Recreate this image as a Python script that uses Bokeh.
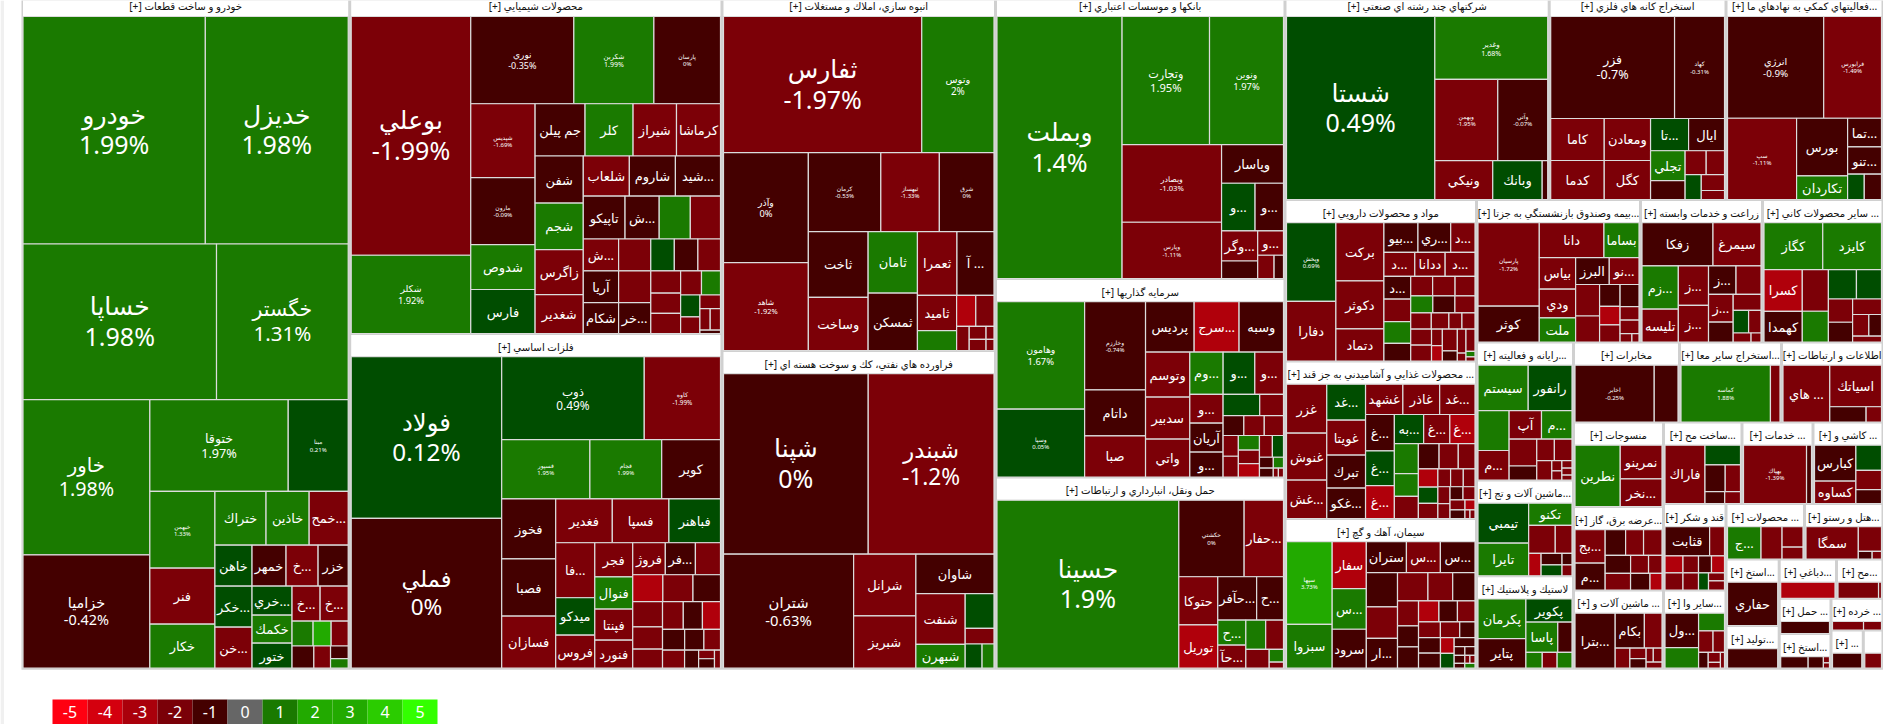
from bokeh.plotting import figure
from bokeh.models import ColumnDataSource, Range1d
from bokeh.core.properties import value
from bokeh.embed import file_html
from bokeh.resources import INLINE

def H(*c): return ("H", c)
def V(*c): return ("V", c)
def T(s):
    s = s.rstrip(")")
    return eval(s + ")" * (s.count("(") - s.count(")")))

# ---------- data: one block per sector: names, % change, traded value, nesting ----------
S01_HEAD = "خودرو و ساخت قطعات"
S01_NAMES = ["خودرو","خديزل","خساپا","خگستر","خاور","خزاميا","ختوقا","مبنا","خبهمن","فنر","خكار","ختراك","خاذين","خمح...","خاهن","خكر...","خن...","خمهر","خ...","خزر","خري...","خكمك","ختور","خ...","خ...","","","","","","",""]
S01_PCT = [1.99,1.98,1.98,1.31,1.98,-0.42,1.97,0.21,1.33,-1.5,1.5,1.5,1.5,-1.5,0.5,0.5,-1.5,-0.5,-1.5,-0.5,0.5,1.5,0.5,-1.5,-1.5,1.5,2.5,-1.5,-0.5,-1.5,-0.5,1.5]
S01_SIZE = [41430,32460,30070,20460,19660,14360,12670,5490,5000,3640,2860,2750,2320,2100,1520,1520,1520,1390,1310,1230,1160,1120,1000,980,980,525,450,425,483,370,221,170]
S01_TREE = T("V(H(2),H(2),H(V(2),V(H(2),H(V(3),V(H(3),H(V(3),V(H(3),H(V(3),V(H(2),H(3),H(2,V(2)")

S02_HEAD = "محصولات شيميايي"
S02_NAMES = ["بوعلي","شكلر","نوري","شكربن","پارسان","شپديس","مارون","شدوص","فارس","جم پيلن","كلر","شيراز","كرماشا","شفن","شجم","زاگرس","شغدير","شلعاب","شاروم","شيد...","تاپيكو","ش...","","","ش...","آريا","شكام","","","خر..."] + [""]*14
S02_PCT = [-1.99,1.92,-0.35,1.99,0,-1.69,-0.09,1.5,0.5,-0.5,1.5,-1.5,-1.5,-0.5,1.5,-1.5,-1.5,-1.5,-0.5,-0.5,-0.5,-0.5,1.5,-1.5,-1.5,-0.5,-0.5,-1.5,-1.5,-0.5,0.5,-0.5,-1.5,-1.5,-1.5,-1.5,-1.5,1.5,0.5,-1.5,-1.5,-1.5,-1.5,-0.5]
S02_SIZE = [28440,9320,8960,6960,5790,4740,4290,2880,2820,2600,2500,2260,2290,2260,2230,2160,1870,1840,1840,1800,1785,1460,1330,1290,1120,1120,1085,1020,1020,990,750,750,720,660,600,600,500,455,420,320,280,220,220,70]
S02_TREE = T("H(V(2),V(H(3),H(V(4),V(H(4),H(V(4),V(H(3),H(4),H(V(3),V(3),V(H(3),H(V(3),V(H(2),H(V(2),V(1,H(2),1")

S03_HEAD = "فلزات اساسي"
S03_NAMES = ["فولاد","فملي","ذوب","كاوه","فسپور","فجام","كوير","فخوز","فصبا","فسازان","فغدير","فسپا","فباهنر","فا...","ميدكو","فروس","فجر","فنوال","فپنتا","فنورد","فروژ","فر..."] + [""]*18
S03_PCT = [0.12,0,0.49,-1.99,1.95,1.99,-0.5,-0.5,-0.5,-1.5,-1.5,-1.5,0.5,-1.5,0.5,-1.5,-1.5,1.5,-1.5,-1.5,-1.5,-0.5,-1.5,-2.5,-1.5,-0.5,-1.5,-1.5,-1.5,-1.5,-0.5,-2.5,-0.5,-0.5,-1.5,-1.5,-0.5,-1.5,-0.5,-1.5]
S03_SIZE = [24300,22500,11800,6310,5220,4250,3480,3240,3080,2810,2480,2480,2260,2145,1460,1290,1290,1220,1180,1060,1040,960,800,810,810,740,750,660,570,575,530,500,460,400,345,396,252,135,150,108]
S03_TREE = T("H(V(2),V(H(2),H(3),H(V(3),V(H(3),H(V(3),V(4),V(H(3),H(3),H(V(3),V(H(3),H(3),H(1,1,V(2),1")

S04_HEAD = "انبوه سازي، املاك و مستغلات"
S04_NAMES = ["ثفارس","وتوس","وآذر","شاهد","كرمان","ثبهساز","شرق","ثاخت","وساخت","ثامان","ثمسكن","ثعمرا","آ ...","ثاميد","","","","","","","",""]
S04_PCT = [-1.97,2,0,-1.92,-0.53,-1.33,0,-0.5,-1.5,1.5,-0.5,-1.5,-0.5,-1.5,1.5,-2.5,-1.5,-1.5,-1.5,-1.5,-1.5,-1.5]
S04_SIZE = [27060,9860,9350,7480,5730,4630,4320,3950,3180,3040,2840,2530,2370,1385,780,595,565,305,221,187,104,88]
S04_TREE = T("V(H(2),H(V(2),V(H(3),H(V(2),V(2),V(H(2),H(V(2),V(H(2),H(1,V(2),V(2)")

S05_HEAD = "فراورده هاي نفتي، كك و سوخت هسته اي"
S05_NAMES = ["شپنا","شبندر","شتران","شرانل","شبريز","شاوان","شنفت","شبهرن","","","",""]
S05_PCT = [0,-1.2,-0.63,-1.5,-1.5,-0.5,-1.5,1.5,0.5,-1.5,0.5,1.5]
S05_SIZE = [26100,22680,14830,3840,3255,3080,2500,1176,1000,450,408,288]
S05_TREE = T("V(H(2),H(1,V(2),V(1,H(V(2),V(1,1,H(2)")

S06_HEAD = "بانكها و موسسات اعتباري"
S06_NAMES = ["وبملت","وتجارت","ونوين","وبصادر","وپارس","وپاسار","و...","و...","وگر...","","و...","",""]
S06_PCT = [1.4,1.95,1.97,-1.03,-1.11,-0.5,0.5,-0.5,-1.5,-0.5,-1.5,-1.5,-0.5]
S06_SIZE = [32620,11160,9440,7680,5570,2375,1590,1350,1080,630,624,380,218]
S06_TREE = T("H(1,V(H(2),H(V(2),V(1,H(2),H(V(2),V(1,H(2)")

S07_HEAD = "سرمايه گذاريها"
S07_NAMES = ["وهامون","وسپا","وخارزم","داتام","صبا","پرديس","سرج...","وسبه","وتوسم","سدبير","واتي","وم...","و...","و...","و...","آريان","و..."] + [""]*17
S07_PCT = [1.67,0.05,-0.74,-0.5,-1.5,-0.5,-2.5,-0.5,-1.5,-1.5,-1.5,1.5,0.5,-1.5,-1.5,-0.5,-0.5,0.5,-1.5,-0.5,-1.5,-1.5,-1.5,-1.5,1.5,-1.5,-2.5,-1.5,0.5,-0.5,1.5,-0.5,-1.5,-1.5]
S07_SIZE = [9370,5910,5340,2790,2490,2435,2250,2225,1980,1850,1670,1400,1330,1205,957,957,825,777,504,410,404,380,315,315,305,283,283,280,240,150,110,122,45,45]
S07_TREE = T("H(V(2),V(3),V(H(3),H(V(3),V(H(3),H(V(3),V(H(2),H(3),H(V(2),V(3),V(H(2),H(2),H(3)")

S08_HEAD = "حمل ونقل، انبارداري و ارتباطات"
S08_NAMES = ["حسينا","حكشتي","حفار...","حتوكا","توريل","حآفر...","ح...","ح...","حآ...","","","","",""]
S08_PCT = [1.9,0,-1.5,-1.5,-2.5,-0.5,-0.5,1.5,-1.5,1.5,-1.5,-1.5,1.5,-1.5]
S08_SIZE = [30420,4980,3000,1870,1680,1680,1160,700,645,580,520,437,180,87]
S08_TREE = T("H(1,V(H(2),H(V(2),V(H(2),H(V(2),V(H(2),H(1,V(2)")

S09_HEAD = "شركتهاي چند رشته اي صنعتي"
S09_NAMES = ["شستا","وغدير","وبهمن","وآتي","ونيكي","وبانك",""]
S09_PCT = [0.49,1.68,-1.95,-0.07,-1.5,0.5,-0.5]
S09_SIZE = [27240,7120,5130,4070,2260,1930,215]
S09_TREE = T("H(1,V(1,H(2),H(3)")

S10_HEAD = "استخراج كانه هاي فلزي"
S10_NAMES = ["فزر","كهاد","كاما","كدما","ومعادن","كگل","تا...","ايال","تجلي","","","","","",""]
S10_PCT = [-0.7,-0.31,-1.5,-1.5,-1.5,-1.5,0.5,-0.5,1.5,-0.5,-1.5,-1.5,0.5,-1.5,-1.5]
S10_SIZE = [12520,5050,2230,2070,1930,1790,1216,1150,1020,650,497,432,400,368,207]
S10_TREE = T("V(H(2),H(V(2),V(2),V(H(2),H(V(2),V(H(2),H(1,V(2)")

S11_HEAD = "فعاليتهاي كمكي به نهادهاي ما..."
S11_NAMES = ["انرژي","فرابورس","سپ","بورس","تكاردان","تما...","تنو...","",""]
S11_PCT = [-0.9,-1.49,-1.11,-0.5,1.5,-0.5,-0.5,0.5,-0.5]
S11_SIZE = [9750,5860,5590,2930,1200,970,920,420,434]
S11_TREE = T("V(H(2),H(1,V(2),V(1,1,H(2)")

S12_HEAD = "مواد و محصولات دارويي"
S12_NAMES = ["وپخش","دفارا","بركت","دكوثر","دتماد","بيو...","ري...","د...","د...","ددانا","د...","د..."] + [""]*24
S12_PCT = [0.69,-1.5,-1.5,-1.5,-1.5,-0.5,-0.5,-1.5,-1.5,-1.5,-1.5,-0.5,-1.5,1.5,-0.5,-1.5,-1.5,-1.5,1.5,-0.5,-1.5,-1.5,-1.5,-1.5,-1.5,-1.5,-1.5,-1.5,-2.5,-1.5,-0.5,-1.5,-1.5,-1.5,1.5,-1.5]
S12_SIZE = [3830,2910,2755,2280,1520,995,957,710,735,723,711,598,598,572,468,418,428,380,374,374,340,328,280,208,208,328,328,176,165,322,150,204,68,198,50,36]
S12_TREE = T("H(V(2),V(3),V(H(3),H(3),H(V(4),V(H(3),H(3),H(4),H(V(2),V(2),V(2),V(2),V(3)")

S13_HEAD = "محصولات غذايي و آشاميدني به جز قند ..."
S13_NAMES = ["غزر","غنوش","غش...","غد...","غويتا","تبرك","غكو...","غشهد","غاذر","غد...","غ...","غ...","غ...","به...","غ...","غ..."] + [""]*21
S13_PCT = [-1.5,-1.5,-1.5,0.5,-1.5,-0.5,-0.5,-1.5,-1.5,-1.5,-0.5,0.5,-2.5,0.5,-1.5,-2.5,1.5,1.5,-1.5,-0.5,-1.5,-1.5,-2.5,0.5,-1.5,-1.5,-1.5,-1.5,-1.5,-1.5,-0.5,-1.5,-1.5,-2.5,-0.5,-1.5,-1.5]
S13_SIZE = [1960,1880,1540,1386,1350,1270,1175,1125,1110,1065,1040,1000,940,850,760,730,717,540,530,520,482,420,352,314,295,225,225,207,204,180,169,156,150,100,128,43,43]
S13_TREE = T("H(V(3),V(4),V(H(3),H(V(3),V(H(3),H(V(3),V(H(3),H(V(3),V(H(3),H(V(2),V(H(2),H(2),H(3)")

S14_HEAD = "سيمان، آهك و گچ"
S14_NAMES = ["سپها","سبزوا","سفار","س...","سرود","ستران","س...","س...","","","ار..."] + [""]*24
S14_PCT = [3.73,1.5,-2.5,1.5,-0.5,-0.5,-1.5,-0.5,-0.5,-1.5,-0.5,-1.5,-1.5,-0.5,-1.5,-0.5,-0.5,-2.5,-0.5,-1.5,-1.5,-1.5,-0.5,-0.5,-0.5,-2.5,0.5,-0.5,-0.5,-0.5,-0.5,-1.5,-1.5,-0.5,1.5]
S14_SIZE = [3780,2000,1600,1390,1330,1240,1050,1070,1070,980,930,860,700,630,525,440,450,430,390,370,344,304,240,340,330,216,202,185,95,90,84,40,40,52,50]
S14_TREE = T("H(V(2),V(3),V(H(3),H(V(3),V(H(3),H(V(3),V(H(3),H(3),H(V(2),V(2),V(1,H(2),H(3),H(2)")

S15_HEAD = "بيمه وصندوق بازنشستگي به جزتا..."
S15_NAMES = ["پارسيان","كوثر","دانا","بساما","بياس","ودي","ملت","البرز","نو..."] + [""]*10
S15_PCT = [-1.72,-0.5,-1.5,1.5,-1.5,-1.5,1.5,-0.5,-1.5,-1.5,-1.5,-0.5,-2.5,-1.5,-0.5,-1.5,-1.5,-1.5,-1.5]
S15_SIZE = [5120,2200,2260,1225,1150,1040,880,905,800,756,624,450,380,350,418,256,256,100,60]
S15_TREE = T("H(V(2),V(H(2),H(V(3),V(H(2),H(V(2),V(3),V(1,1,1,H(2)")

S16_HEAD = "زراعت و خدمات وابسته"
S16_NAMES = ["زفكا","سيمرغ","زم...","تليسه","ز...","ز...","ز...","","ز...","","","","","",""]
S16_PCT = [-0.5,-1.5,1.5,-1.5,-1.5,-1.5,-0.5,-1.5,-1.5,-0.5,-1.5,0.5,-1.5,-1.5,-1.5]
S16_SIZE = [3090,2090,1580,1200,1200,1110,784,712,690,494,448,352,284,162,90]
S16_TREE = T("V(H(2),H(V(2),V(2),V(H(2),H(V(2),V(1,H(2),H(2)")

S17_HEAD = "ساير محصولات كاني ..."
S17_NAMES = ["كگاز","كايزد","كسرا","كهمدا","","","","","","","","","",""]
S17_PCT = [1.5,1.5,-2.5,-0.5,-1.5,1.5,0.5,0.5,-1.5,-0.5,-1.5,-1.5,-0.5,-1.5]
S17_SIZE = [2770,2770,1600,1180,1090,806,826,738,564,480,450,352,275,170]
S17_TREE = T("V(H(2),H(V(2),V(2),V(H(2),H(V(2),V(1,H(2),1")

S18_HEAD = "رايانه و فعاليته..."
S18_NAMES = ["سيستم","رانفور","","م...","آپ","م...","","","","","","","","","",""]
S18_PCT = [1.5,0.5,1.5,-1.5,-1.5,1.5,-1.5,-0.5,-1.5,-1.5,-1.5,-1.5,-1.5,-1.5,-1.5,-1.5]
S18_SIZE = [2270,1980,1240,915,924,870,740,385,378,378,290,102,92,75,70,50]
S18_TREE = T("V(H(2),H(V(2),V(H(2),H(V(2),V(H(2),H(1,V(2),V(3)")

S19_HEAD = "ماشين آلات و تج..."
S19_NAMES = ["تيمبي","تايرا","تكنو","","","","","","",""]
S19_PCT = [0.5,1.5,1.5,-1.5,-1.5,-2.5,-0.5,0.5,-0.5,-1.5]
S19_SIZE = [2045,1670,968,756,476,281,242,231,115,110]
S19_TREE = T("H(V(2),V(1,H(2),H(1,V(2),V(2)")

S20_HEAD = "لاستيك و پلاستيك"
S20_NAMES = ["پكرمان","پتاير","پكوير","پاسا","","","",""]
S20_PCT = [1.5,-0.5,0.5,1.5,-0.5,1.5,-1.5,1.5]
S20_SIZE = [1920,1440,1080,975,435,264,240,240]
S20_TREE = T("H(V(2),V(1,H(2),H(3)")

S21_HEAD = "مخابرات"
S21_NAMES = ["اخابر",""]
S21_PCT = [-0.25,-0.5]
S21_SIZE = [4520,1356]
S21_TREE = H(2)

S22_HEAD = "استخراج ساير معا..."
S22_NAMES = ["كماسه",""]
S22_PCT = [1.88,-1.5]
S22_SIZE = [5030,537]
S22_TREE = H(2)

S23_HEAD = "اطلاعات و ارتباطات"
S23_NAMES = ["هاي ...","اسياتك","",""]
S23_PCT = [-1.5,-1.5,-0.5,-1.5]
S23_SIZE = [2630,2130,548,232]
S23_TREE = T("H(1,V(1,H(2)")

S24_HEAD = "منسوجات"
S24_NAMES = ["نطرين","نمرينو","نخر..."]
S24_PCT = [1.5,-1.5,-1.5]
S24_SIZE = [2820,1428,1176]
S24_TREE = T("H(1,V(2)")

S25_HEAD = "ساخت مح..."
S25_NAMES = ["فاراك","","","","",""]
S25_PCT = [-1.5,0.5,-0.5,-1.5,-0.5,-1.5]
S25_SIZE = [2390,720,553,418,240,192]
S25_TREE = T("H(1,V(1,H(2),H(2)")

S26_HEAD = "خدمات ..."
S26_NAMES = ["بهپاك",""]
S26_PCT = [-1.39,-0.5]
S26_SIZE = [3750,295]
S26_TREE = H(2)

S27_HEAD = "كاشي و ..."
S27_NAMES = ["كبارس","كساوه","","",""]
S27_PCT = [-0.5,-1.5,0.5,-1.5,-0.5]
S27_SIZE = [1523,955,663,507,364]
S27_TREE = T("H(V(2),V(3)")

S28_HEAD = "عرضه برق، گاز..."
S28_NAMES = ["بج...","م...","","","","","","","","",""]
S28_PCT = [-1.5,-0.5,-0.5,-1.5,-1.5,-0.5,-1.5,-1.5,-1.5,-0.5,-2.5]
S28_SIZE = [1005,810,523,459,472,459,324,243,420,322,198]
S28_TREE = T("H(V(2),V(H(3),H(3),H(3)")

S29_HEAD = "قند و شكر"
S29_NAMES = ["قثابت","","","","","","","","","",""]
S29_PCT = [-0.5,-1.5,-2.5,-1.5,-0.5,-2.5,-1.5,-1.5,0.5,-1.5,-1.5]
S29_SIZE = [1290,430,306,264,221,221,306,264,170,128,144]
S29_TREE = T("V(H(2),H(4),H(1,1,1,V(2)")

S30_HEAD = "محصولات ..."
S30_NAMES = ["ج...","","",""]
S30_PCT = [1.5,-1.5,-1.5,-1.5]
S30_SIZE = [1092,685,430,252]
S30_TREE = T("H(2,V(2)")

S31_HEAD = "هتل و رستو..."
S31_NAMES = ["سمگا","","",""]
S31_PCT = [-1.5,-1.5,-0.5,-1.5]
S31_SIZE = [1695,575,105,71]
S31_TREE = T("H(1,V(1,H(2)")

S32_HEAD = "استخ..."
S32_NAMES = ["حفاري"]
S32_PCT = [-0.5]
S32_SIZE = [2150]
S32_TREE = H(1)

S33_HEAD = "توليد..."
S33_NAMES = [""]
S33_PCT = [-0.5]
S33_SIZE = [1000]
S33_TREE = H(1)

S34_HEAD = "دباغي..."
S34_NAMES = [""]
S34_PCT = [-2.5]
S34_SIZE = [870]
S34_TREE = H(1)

S35_HEAD = "مح..."
S35_NAMES = ["",""]
S35_PCT = [-1.5,-1.5]
S35_SIZE = [660,48]
S35_TREE = H(2)

S36_HEAD = "حمل ..."
S36_NAMES = [""]
S36_PCT = [-0.5]
S36_SIZE = [590]
S36_TREE = H(1)

S37_HEAD = "خرده ..."
S37_NAMES = ["",""]
S37_PCT = [-1.5,-1.5]
S37_SIZE = [280,162]
S37_TREE = H(2)

S38_HEAD = "استخ..."
S38_NAMES = ["","","",""]
S38_PCT = [-0.5,-0.5,-1.5,-1.5]
S38_SIZE = [297,165,36,30]
S38_TREE = T("H(2,V(2)")

S39_HEAD = "..."
S39_NAMES = [""]
S39_PCT = [-0.5]
S39_SIZE = [450]
S39_TREE = H(1)

S40_HEAD = ""
S40_NAMES = [""]
S40_PCT = [-1.5]
S40_SIZE = [250]
S40_TREE = H(1)

S41_HEAD = "ماشين آلات و ..."
S41_NAMES = ["بترا...","بكام","","","","","","",""]
S41_PCT = [-0.5,-0.5,-1.5,-1.5,-1.5,-0.5,-1.5,-1.5,-1.5]
S41_SIZE = [2170,1000,604,290,168,152,98,119,96]
S41_TREE = T("H(1,V(H(2),H(1,V(2),V(H(2),1")

S42_HEAD = "ساير وا..."
S42_NAMES = ["ول...","","","","","","","",""]
S42_PCT = [-0.5,1.5,1.5,-1.5,-1.5,-0.5,-1.5,-1.5,-1.5]
S42_SIZE = [1155,687,455,312,247,152,120,72,64]
S42_TREE = T("H(V(2),V(1,H(2),H(1,V(2),1")

# sector order follows the leaves of SECTOR_TREE
SECTOR_IDS = [1,2,3,4,5,6,7,8,9,10,11,12,13,14,15,16,17,18,19,20,21,22,23,24,28,41,25,26,27,29,42,30,31,32,33,34,35,36,38,37,39,40]
SECTOR_VALUE = [221500,126660,124610,97690,86890,82570,57470,55350,54480,36460,32370,30930,30160,28670,23370,17385,17170,13386,9293,8963,8480,8160,8120,7605,7515,7038,6398,5787,5705,5406,4888,4357,4357,3538,2272,2252,1827,1823,1797,1648,1234,753]
SECTOR_TREE = T("H(1,V(2),V(2),V(3),V(H(3),H(V(3),V(H(3),H(V(3),V(H(3),H(V(3),V(H(3),H(V(2),V(H(2),H(V(2),V(H(2),H(V(2),V(1,H(2)")

LEGEND_VALUES = [-5,-4,-3,-2,-1,0,1,2,3,4,5]
LEGEND_COLORS = ["#ff0011","#d4000e","#aa000b","#7a0008","#440000","#666666","#1a7a00","#22aa00","#22aa00","#2bcc00","#33ff00"]

# ---------- style ----------
FAMILY = value("Noto Sans, DejaVu Sans")
C_RR, C_R, C_D, C_DG, C_G, C_B = "#b0000b", "#7c0007", "#440000", "#004d00", "#1a7a00", "#22aa00"
def colour(p):
    if p <= -2: return C_RR
    if p < -1: return C_R
    if p <= 0: return C_D
    if p < 1: return C_DG
    if p <= 2: return C_G
    return C_B
def fmt(p):
    return ("%.2f" % p).rstrip("0").rstrip(".") + "%"
ALWAYS_PCT = {"سپها","وپخش","بهپاك"}

# ---------- treemap layout ----------
def walk(node, w, ctr):
    if isinstance(node, int):
        i = ctr[0]; ctr[0] += 1
        return (w[i], ("L", i))
    d, ch = node
    out = []
    for c in ch:
        if isinstance(c, int):
            for _ in range(c):
                out.append(walk(1, w, ctr))
        else:
            out.append(walk(c, w, ctr))
    return (sum(o[0] for o in out), (d, out))

def place(n, box, res):
    total, nd = n
    if nd[0] == "L":
        res[nd[1]] = box; return
    x0, y0, x1, y1 = box
    pos = x0 if nd[0] == "H" else y0
    span = (x1 - x0) if nd[0] == "H" else (y1 - y0)
    for c in nd[1]:
        step = span * c[0] / total
        if nd[0] == "H":
            place(c, (pos, y0, pos + step, y1), res)
        else:
            place(c, (x0, pos, x1, pos + step), res)
        pos += step

def layout(tree, w, box):
    res = {}
    ctr = [0]
    place(walk(tree, w, ctr), box, res)
    assert ctr[0] == len(w), (ctr[0], len(w))
    return [res[i] for i in range(len(w))]

ROOT = (21.0, -5.7, 1882.5, 669.2)
sbox = layout(SECTOR_TREE, SECTOR_VALUE, ROOT)
G = globals()
hx, hy, ht = [], [], []
hd = dict(l=[], r=[], t=[], b=[])
td = dict(l=[], r=[], t=[], b=[], c=[])
l1 = dict(x=[], y=[], s=[], f=[])
for sid, b in zip(SECTOR_IDS, sbox):
    k = "S%02d_" % sid
    names, pct, size, tree = G[k+"NAMES"], G[k+"PCT"], G[k+"SIZE"], G[k+"TREE"]
    assert len(names) == len(pct) == len(size), (sid, len(names), len(pct), len(size))
    x0, y0, x1, y1 = b
    hd["l"].append(x0+1.5); hd["r"].append(x1-1.5); hd["t"].append(y0); hd["b"].append(y1-1.5)
    head = G[k+"HEAD"]
    if head:
        hx.append((x0+x1)/2); hy.append(y0+11.6); ht.append("[+] " + head)
    cells = layout(tree, size, (x0+1.5, y0+21.7, x1-1.5, y1-1.5))
    for (a, bb, c, d), n, p, s in zip(cells, names, pct, size):
        td["l"].append(a); td["r"].append(c); td["t"].append(bb); td["b"].append(d); td["c"].append(colour(p))
        if not n: continue
        cx, cy = (a+c)/2, (bb+d)/2
        if s >= 4000 or n in ALWAYS_PCT:
            f = min(25.0, max(6.0, s/1000.0))
            l1["x"] += [cx, cx]; l1["y"] += [cy-0.70*f+1, cy+0.52*f+1]
            l1["s"] += [n, fmt(p)]; l1["f"] += ["%.1fpx" % f]*2
        else:
            l1["x"].append(cx); l1["y"].append(cy); l1["s"].append(n); l1["f"].append("13px")

# ---------- drawing ----------
p = figure(width=1896, height=724, x_range=Range1d(0, 1896), y_range=Range1d(724, 0),
           x_axis_type=None, y_axis_type=None, toolbar_location=None, output_backend="svg",
           min_border=0, outline_line_color=None, background_fill_color="white", border_fill_color="white")
p.grid.visible = False

p.quad(left=[0], right=[3.5], top=[0], bottom=[724], fill_color="#f0f0f0", line_color=None)
p.quad(left=[ROOT[0]], right=[ROOT[2]], top=[ROOT[1]], bottom=[ROOT[3]], fill_color="#d0d0d0", line_color=None)
p.quad(left="l", right="r", top="t", bottom="b", source=ColumnDataSource(hd), fill_color="white", line_color=None)
p.quad(left="l", right="r", top="t", bottom="b", fill_color="c", source=ColumnDataSource(td),
       line_color="#dcdcdc", line_width=1.2)
p.text(x=hx, y=hy, text=ht, text_font=FAMILY, text_font_size="10.2px", text_color="#111111",
       text_align="center", text_baseline="middle")
p.text(x="x", y="y", text="s", text_font_size="f", text_font=FAMILY, source=ColumnDataSource(l1),
       text_color="white", text_align="center", text_baseline="middle")

lx = [52 + 35*i for i in range(len(LEGEND_VALUES))]
p.quad(left=lx, right=[a+35 for a in lx], top=[699]*11, bottom=[723.5]*11, fill_color=LEGEND_COLORS, line_color=None)
p.text(x=[a+17.5 for a in lx], y=[711.5]*11, text=[str(v) for v in LEGEND_VALUES], text_font=FAMILY,
       text_font_size="16px", text_color="white", text_align="center", text_baseline="middle")

open("out.html", "w").write(file_html(p, INLINE))
